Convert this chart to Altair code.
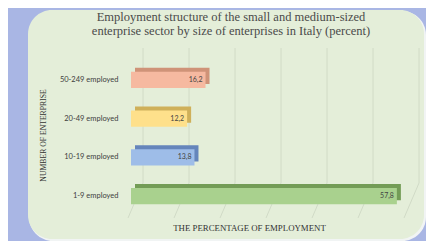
import altair as alt
import pandas as pd

categories = ["50-249 employed", "20-49 employed", "10-19 employed", "1-9 employed"]
values = [16.2, 12.2, 13.8, 57.8]
value_labels = ["16,2", "12,2", "13,8", "57,8"]
front_colors = ["#f6b9a0", "#fee08b", "#9ebde8", "#a9d18e"]
side_colors = ["#cf9378", "#cfb05a", "#6585bb", "#739c56"]
grid_ticks = [0, 10, 20, 30, 40, 50, 60]

bars = pd.DataFrame({
    "cat": categories,
    "value": values,
    "label": value_labels,
    "front": front_colors,
    "side": side_colors,
})
grid = pd.DataFrame({"tick": grid_ticks})
one = pd.DataFrame({"a": [0]})

xscale = alt.Scale(domain=[0, 60], nice=False, zero=True)
yscale = alt.Scale(domain=categories, paddingInner=0.58, paddingOuter=0.3)

rim = alt.Chart(one).mark_rect(cornerRadius=24, color="#f1f4f4").encode(
    x=alt.value(-102), x2=alt.value(295), y=alt.value(-49), y2=alt.value(181)
)
panel = alt.Chart(one).mark_rect(cornerRadius=24, color="#e4eed9").encode(
    x=alt.value(-103), x2=alt.value(293), y=alt.value(-50), y2=alt.value(179)
)

grid_v = alt.Chart(grid).mark_rule(color="#ccd6c2", strokeWidth=0.8, xOffset=12).encode(
    x=alt.X("tick:Q", scale=xscale, axis=alt.Axis(labels=False, ticks=False, domain=False, grid=False,
                                                  title="THE PERCENTAGE OF EMPLOYMENT",
                                                  titleFont="Liberation Serif", titleFontSize=8.8,
                                                  titleFontWeight="normal", titleColor="#333333",
                                                  titleX=118, titleY=11, titleBaseline="middle",
                                                  zindex=2)),
    y=alt.value(-12), y2=alt.value(123),
)
grid_d = alt.Chart(grid).mark_rule(color="#ccd6c2", strokeWidth=0.8, xOffset=12, x2Offset=-3).encode(
    x=alt.X("tick:Q", scale=xscale), x2="tick:Q",
    y=alt.value(123), y2=alt.value(158),
)

yaxis = alt.Axis(ticks=False, domain=False, grid=False, labelPadding=13,
                 labelFont="Lato", labelFontSize=7.5, labelColor="#404040",
                 title="NUMBER OF ENTERPRISE", titleFont="Liberation Serif", titleFontSize=7.7,
                 titleFontWeight="normal", titleColor="#333333",
                 titleX=-88, titleY=75, titleAlign="center", titleBaseline="middle", titleAngle=-90,
                 zindex=2)

depth = alt.Chart(bars).mark_bar(xOffset=4, x2Offset=4, yOffset=-4, y2Offset=-4).encode(
    x=alt.X("value:Q", scale=xscale), x2=alt.datum(0),
    y=alt.Y("cat:N", scale=yscale, axis=yaxis, sort=categories),
    color=alt.Color("side:N", scale=None),
)
front = alt.Chart(bars).mark_bar().encode(
    x=alt.X("value:Q", scale=xscale), x2=alt.datum(0),
    y=alt.Y("cat:N", scale=yscale, sort=categories),
    color=alt.Color("front:N", scale=None),
)
text = alt.Chart(bars).mark_text(align="right", dx=-3, font="Lato", fontSize=7, color="#444444").encode(
    x=alt.X("value:Q", scale=xscale),
    y=alt.Y("cat:N", scale=yscale, sort=categories),
    text="label:N",
)

chart = alt.layer(rim, panel, grid_v, grid_d, depth, front, text).properties(
    width=276, height=156,
    autosize=alt.AutoSizeParams(type="none"),
    padding={"left": 123, "top": 52, "right": 19, "bottom": 25},
    title=alt.TitleParams(
        ["Employment structure of the small and medium-sized",
         "enterprise sector by size of enterprises in Italy (percent)"],
        font="Liberation Serif", fontSize=12.5, fontWeight="normal", color="#4a4a4a",
        anchor="middle", frame="group", dx=-38, offset=-27, lineHeight=14, zindex=2,
    ),
).configure(background="#a9b6e4").configure_view(stroke=None)

chart.save("out.html", embed_options={"renderer": "svg", "actions": False})
